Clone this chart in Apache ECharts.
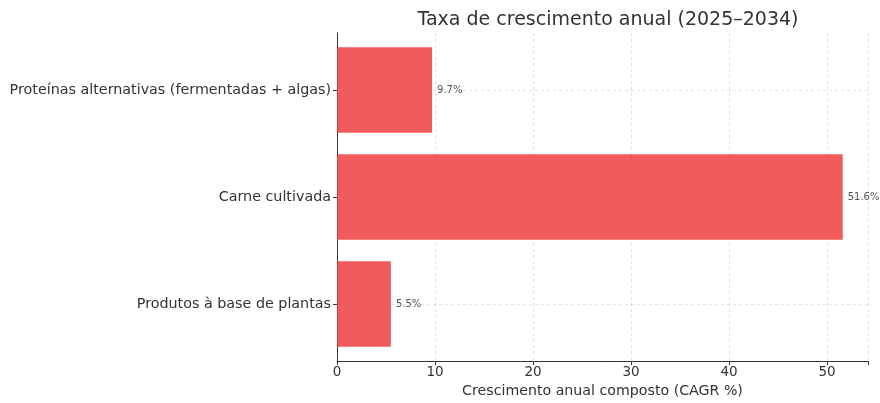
<!DOCTYPE html>
<html><head><meta charset="utf-8">
<script src="https://cdn.jsdelivr.net/npm/echarts@6/dist/echarts.min.js"></script>
<style>html,body{margin:0;padding:0;background:#fff}#c{width:880px;height:403px}</style>
</head><body><div id="c"></div>
<script>
const categories = ["Produtos à base de plantas", "Carne cultivada", "Proteínas alternativas (fermentadas + algas)"];
const cagr = [5.5, 51.6, 9.7];
const xTicks = [0, 10, 20, 30, 40, 50];
const titleText = "Taxa de crescimento anual (2025–2034)";
const xName = "Crescimento anual composto (CAGR %)";
const xMax = 54.18;
const font = "DejaVu Sans";
const chart = echarts.init(document.getElementById('c'), null, {renderer: 'canvas'});
chart.setOption({
  animation: false,
  textStyle: {fontFamily: font},
  title: {text: titleText, left: 603, top: 6, textAlign: 'center',
    textStyle: {fontFamily: font, fontSize: 19, fontWeight: 'normal', color: '#333'}},
  grid: [
    {left: 337, right: 12, top: 36.5, bottom: 45.5},
    {left: 337, right: 12, top: 33, bottom: 41}
  ],
  xAxis: [
    {gridIndex: 0, type: 'value', min: 0, max: xMax, show: false},
    {gridIndex: 1, type: 'value', min: 0, max: xMax, interval: 10,
      axisLine: {show: true, lineStyle: {color: '#333', width: 1}},
      axisTick: {show: true, length: 4, lineStyle: {color: '#333'}},
      axisLabel: {fontFamily: font, fontSize: 13.5, color: '#333', margin: 4,
        formatter: v => xTicks.includes(v) ? String(v) : ''},
      splitLine: {show: true, lineStyle: {color: 'rgba(128,128,128,0.3)', type: [3, 3], width: 0.8}},
      name: xName, nameLocation: 'middle', nameGap: 23,
      nameTextStyle: {fontFamily: font, fontSize: 14.2, color: '#333'}}
  ],
  yAxis: [
    {gridIndex: 0, type: 'category', data: categories,
      axisLine: {show: false},
      axisTick: {show: true, alignWithLabel: true, length: 4, lineStyle: {color: '#333'}},
      axisLabel: {fontFamily: font, fontSize: 14.3, color: '#333', margin: 6},
      splitLine: {show: false}},
    {gridIndex: 1, type: 'value', min: 0, max: 1,
      axisLine: {show: true, lineStyle: {color: '#333', width: 1}},
      axisTick: {show: false}, axisLabel: {show: false}, splitLine: {show: false}}
  ],
  series: [{
    type: 'bar', xAxisIndex: 0, yAxisIndex: 0, data: cagr, barWidth: '80%',
    itemStyle: {color: 'rgb(240,62,62)', opacity: 0.85},
    label: {show: true, position: 'right', distance: 5, formatter: p => p.value + '%',
      fontFamily: font, fontSize: 10, color: '#333'},
    markLine: {silent: true, symbol: 'none', label: {show: false},
      lineStyle: {color: 'rgba(128,128,128,0.25)', type: [3, 3], width: 0.8},
      data: categories.map(c => ({yAxis: c}))},
    z: 2
  }]
});
</script></body></html>
